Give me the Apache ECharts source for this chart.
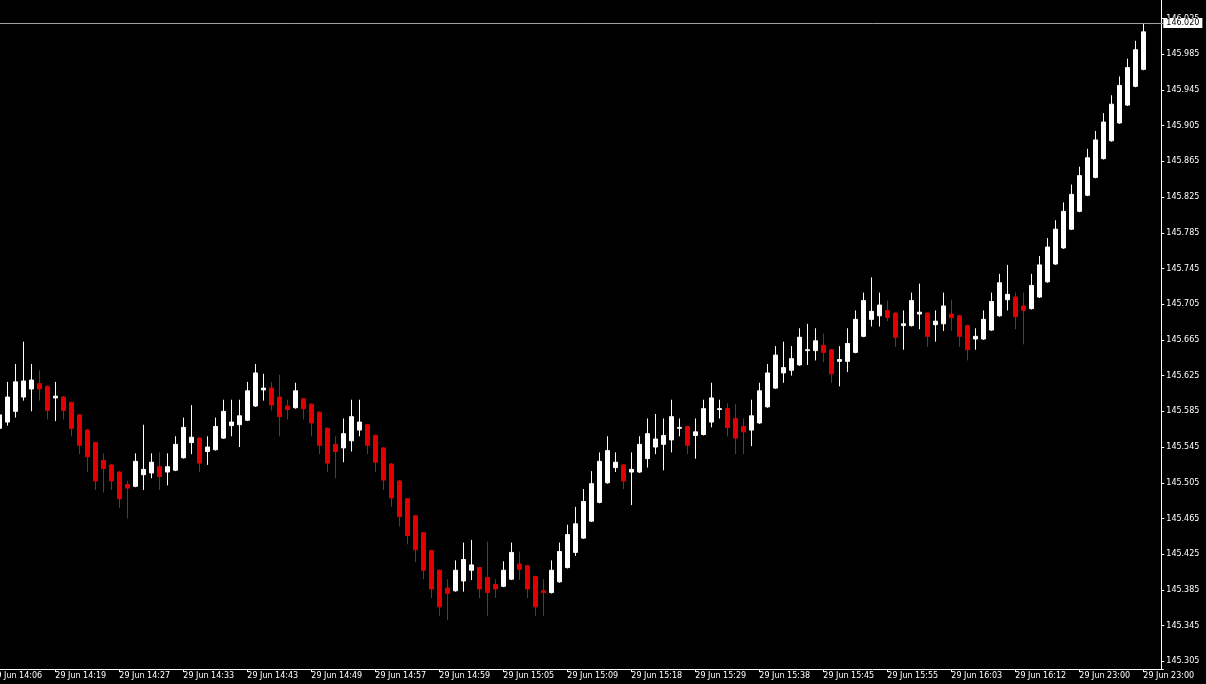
<!DOCTYPE html>
<html><head><meta charset="utf-8">
<script src="https://cdn.jsdelivr.net/npm/echarts@6/dist/echarts.min.js"></script>
<style>html,body{margin:0;padding:0;background:#000;overflow:hidden}#c{width:1206px;height:684px}</style>
</head><body><div id="c"></div>
<script>
// x-axis tick labels (one every 8 bars; the first belongs to the bar just off the left edge)
const tickLabels = ["29 Jun 14:06","29 Jun 14:19","29 Jun 14:27","29 Jun 14:33","29 Jun 14:43","29 Jun 14:49","29 Jun 14:57","29 Jun 14:59","29 Jun 15:05","29 Jun 15:09","29 Jun 15:18","29 Jun 15:29","29 Jun 15:38","29 Jun 15:45","29 Jun 15:55","29 Jun 16:03","29 Jun 16:12","29 Jun 23:00","29 Jun 23:00"];

const opens = [145.566,145.573,145.585,145.601,145.610,145.616,145.613,145.600,145.601,145.595,145.581,145.564,145.550,145.530,145.525,145.517,145.503,145.501,145.514,145.516,145.523,145.517,145.519,145.533,145.550,145.555,145.540,145.542,145.555,145.569,145.570,145.575,145.591,145.609,145.611,145.601,145.591,145.589,145.599,145.593,145.584,145.566,145.548,145.544,145.552,145.564,145.570,145.558,145.544,145.526,145.507,145.487,145.468,145.449,145.429,145.407,145.387,145.384,145.395,145.407,145.410,145.399,145.391,145.389,145.397,145.414,145.412,145.400,145.384,145.382,145.394,145.410,145.427,145.443,145.462,145.483,145.505,145.522,145.525,145.517,145.517,145.532,145.545,145.548,145.553,145.566,145.568,145.558,145.559,145.573,145.587,145.588,145.577,145.568,145.564,145.572,145.590,145.611,145.628,145.631,145.637,145.653,145.653,145.659,145.654,145.641,145.641,145.651,145.669,145.688,145.692,145.698,145.695,145.681,145.681,145.694,145.695,145.682,145.683,145.694,145.692,145.681,145.666,145.666,145.676,145.692,145.710,145.713,145.703,145.700,145.713,145.730,145.750,145.768,145.789,145.809,145.827,145.847,145.868,145.888,145.908,145.928,145.949,145.968];

const closes = [145.581,145.601,145.618,145.619,145.620,145.610,145.586,145.602,145.586,145.566,145.547,145.534,145.507,145.521,145.507,145.487,145.499,145.529,145.520,145.528,145.512,145.523,145.548,145.567,145.556,145.527,145.545,145.568,145.585,145.573,145.580,145.608,145.628,145.611,145.592,145.579,145.587,145.608,145.588,145.572,145.547,145.527,145.540,145.560,145.579,145.573,145.547,145.528,145.508,145.488,145.467,145.446,145.430,145.407,145.386,145.366,145.381,145.407,145.419,145.413,145.386,145.382,145.386,145.407,145.427,145.408,145.386,145.366,145.382,145.407,145.428,145.447,145.459,145.484,145.504,145.529,145.541,145.528,145.507,145.520,145.548,145.560,145.554,145.558,145.579,145.567,145.547,145.562,145.588,145.600,145.588,145.567,145.555,145.562,145.580,145.608,145.628,145.648,145.634,145.644,145.668,145.654,145.664,145.651,145.627,145.643,145.661,145.688,145.709,145.697,145.704,145.690,145.668,145.683,145.709,145.696,145.669,145.686,145.703,145.690,145.669,145.654,145.669,145.688,145.708,145.729,145.716,145.691,145.698,145.726,145.749,145.769,145.789,145.809,145.828,145.849,145.869,145.889,145.909,145.929,145.950,145.970,145.990,146.010];

const lows = [145.564,145.569,145.578,145.597,145.585,145.597,145.576,145.574,145.576,145.557,145.537,145.517,145.497,145.494,145.497,145.477,145.465,145.500,145.497,145.510,145.497,145.502,145.518,145.532,145.537,145.517,145.525,145.541,145.554,145.557,145.545,145.574,145.590,145.597,145.586,145.557,145.576,145.588,145.576,145.557,145.537,145.517,145.510,145.528,145.540,145.557,145.537,145.517,145.497,145.478,145.456,145.436,145.416,145.397,145.376,145.356,145.351,145.383,145.383,145.396,145.376,145.356,145.376,145.388,145.396,145.396,145.376,145.356,145.356,145.381,145.393,145.409,145.423,145.442,145.461,145.482,145.504,145.517,145.498,145.480,145.516,145.522,145.537,145.519,145.539,145.557,145.537,145.532,145.558,145.567,145.577,145.557,145.537,145.537,145.546,145.571,145.589,145.610,145.617,145.625,145.636,145.637,145.642,145.640,145.617,145.613,145.629,145.650,145.668,145.680,145.680,145.686,145.657,145.654,145.680,145.677,145.657,145.663,145.675,145.675,145.657,145.642,145.654,145.665,145.675,145.691,145.698,145.677,145.660,145.699,145.712,145.729,145.749,145.767,145.788,145.808,145.826,145.846,145.867,145.887,145.907,145.927,145.948,145.967];

const highs = [145.583,145.618,145.638,145.663,145.638,145.631,145.614,145.618,145.602,145.596,145.582,145.565,145.551,145.538,145.526,145.518,145.507,145.538,145.570,145.538,145.539,145.538,145.557,145.578,145.592,145.556,145.557,145.578,145.598,145.598,145.598,145.618,145.638,145.627,145.618,145.626,145.598,145.617,145.600,145.594,145.585,145.567,145.557,145.577,145.598,145.598,145.571,145.559,145.545,145.527,145.508,145.488,145.469,145.450,145.430,145.408,145.397,145.418,145.438,145.441,145.411,145.439,145.397,145.417,145.438,145.428,145.413,145.401,145.397,145.418,145.438,145.458,145.478,145.498,145.518,145.539,145.557,145.539,145.526,145.539,145.557,145.577,145.582,145.577,145.598,145.577,145.569,145.577,145.598,145.617,145.598,145.594,145.593,145.577,145.598,145.617,145.638,145.658,145.663,145.658,145.678,145.683,145.678,145.672,145.655,145.658,145.678,145.698,145.718,145.735,145.718,145.709,145.696,145.698,145.718,145.728,145.696,145.698,145.718,145.710,145.693,145.682,145.678,145.698,145.718,145.739,145.749,145.718,145.718,145.739,145.759,145.779,145.799,145.819,145.839,145.859,145.879,145.899,145.919,145.939,145.960,145.980,146.000,146.020];

const yTickValues = [145.305,145.345,145.385,145.425,145.465,145.505,145.545,145.585,145.625,145.665,145.705,145.745,145.785,145.825,145.865,145.905,145.945,145.985,146.025];
const lastPrice = 146.020;

// layout: one empty slot before the first bar, two after the last
const LEAD = 1, TRAIL = 2, EVERY = 8;
const nSlots = LEAD + opens.length + TRAIL;
const categories = [];
for (let i = 0; i < nSlots; i++) categories.push(String(i));
const seriesData = [];
for (let i = 0; i < LEAD; i++) seriesData.push('-');
for (let i = 0; i < opens.length; i++) seriesData.push([opens[i], closes[i], lows[i], highs[i]]);
for (let i = 0; i < TRAIL; i++) seriesData.push('-');

const font = 'DejaVu Sans';
const chart = echarts.init(document.getElementById('c'), null, {renderer: 'canvas'});
chart.setOption({
  backgroundColor: '#000000',
  animation: false,
  grid: {left: -12.7, top: 0, width: 1176, height: 669, containLabel: false, outerBoundsMode: 'none'},
  xAxis: {
    type: 'category',
    data: categories,
    boundaryGap: true,
    axisLine: {show: true, lineStyle: {color: '#ffffff', width: 1}},
    axisTick: {show: true, alignWithLabel: true, length: 3, interval: (i) => i % EVERY === 0, lineStyle: {color: '#ffffff'}},
    axisLabel: {
      interval: (i) => i % EVERY === 0,
      formatter: (v, i) => (i % EVERY === 0 ? (tickLabels[i / EVERY] || '') : ''),
      color: '#ffffff', fontFamily: font, fontSize: 8, align: 'left', margin: 3, hideOverlap: false
    },
    splitLine: {show: false}
  },
  yAxis: {
    type: 'value',
    position: 'right',
    offset: -2,
    min: 145.2964,
    max: 146.0457,
    scale: true,
    axisLine: {show: true, lineStyle: {color: '#ffffff', width: 1}},
    axisTick: {show: true, customValues: yTickValues, length: 3, lineStyle: {color: '#ffffff'}},
    axisLabel: {customValues: yTickValues, formatter: (v) => Number(v).toFixed(3), color: '#ffffff', fontFamily: font, fontSize: 8, margin: 5},
    splitLine: {show: false}
  },
  series: [{
    type: 'candlestick',
    data: seriesData,
    barWidth: 4,
    itemStyle: {color: '#ffffff', color0: '#e00000', borderColor: '#ffffff', borderColor0: '#e00000', borderWidth: 1},
    markLine: {
      silent: true,
      symbol: 'none',
      animation: false,
      data: [{yAxis: lastPrice}],
      lineStyle: {color: '#a0a0a0', width: 1, type: 'solid'},
      label: {show: true, position: 'end', distance: 0, formatter: () => lastPrice.toFixed(3), backgroundColor: '#ffffff', color: '#000000', fontFamily: font, fontSize: 8, padding: [1, 3, 1, 3]}
    }
  }]
});
</script></body></html>
